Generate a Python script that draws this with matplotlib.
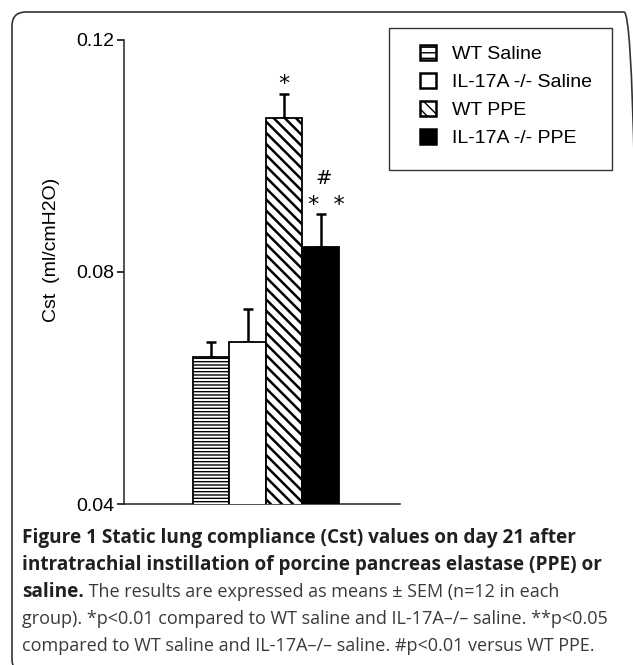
import matplotlib
matplotlib.use("Agg")
import matplotlib.pyplot as plt
from matplotlib.patches import Patch, Rectangle, FancyBboxPatch
from matplotlib.transforms import IdentityTransform

# ---- data ----
groups = ["WT Saline", "IL-17A -/- Saline", "WT PPE", "IL-17A -/- PPE"]
means = [0.0653, 0.0679, 0.1066, 0.0843]
sem = [0.0027, 0.0057, 0.0041, 0.0057]
yticks = [0.04, 0.08, 0.12]
ytick_labels = ["0.04", "0.08", "0.12"]
ylabel = "Cst\u2002(ml/cmH2O)"
caption_bold = ["Figure 1 Static lung compliance (Cst) values on day 21 after",
                "intratrachial instillation of porcine pancreas elastase (PPE) or",
                "saline."]
caption_normal = [" The results are expressed as means \u00b1 SEM (n=12 in each",
                  "group). *p<0.01 compared to WT saline and IL-17A\u2013/\u2013 saline. **p<0.05",
                  "compared to WT saline and IL-17A\u2013/\u2013 saline. #p<0.01 versus WT PPE."]

W, H = 633, 665
fig = plt.figure(figsize=(W / 100, H / 100), dpi=100)
def fx(px): return px / W
def fy(py): return 1 - py / H

CH = "Liberation Sans"
ax = fig.add_axes([fx(124), fy(504), (400 - 124) / W, (504 - 40) / H])
ax.set_ylim(0.04, 0.12)
left = -(211 - 124) / 36.5
ax.set_xlim(left, left + 276 / 36.5)

faces = ["white", "white", "white", "black"]
hatches = ["-----", None, "\\\\\\", None]
hlw = [1.0, 1.0, 1.8, 1.0]
x = list(range(len(groups)))
for i in x:
    with plt.rc_context({"hatch.linewidth": hlw[i]}):
        ax.bar(x[i], means[i], width=1.0, color=faces[i], edgecolor="black",
               linewidth=1.3, hatch=hatches[i], zorder=3)
ax.errorbar(x, means, yerr=[[0] * len(sem), sem], fmt="none", ecolor="black",
            elinewidth=1.8, capsize=3.5, capthick=1.8, zorder=2)

for s in ["top", "right"]:
    ax.spines[s].set_visible(False)
for s in ["left", "bottom"]:
    ax.spines[s].set_linewidth(1.1)
    ax.spines[s].set_color("#222222")
ax.set_xticks([])
ax.set_yticks(yticks)
ax.set_yticklabels(ytick_labels, family=CH, fontsize=14)
ax.tick_params(axis="y", direction="out", length=5, width=1.1, pad=2)

fig.text(fx(52), fy(250), ylabel, rotation=90, ha="center", va="center",
         family=CH, fontsize=14)

# significance marks
ax.text(2, 0.1125, "*", ha="center", va="center", fontsize=16, family="DejaVu Sans")
ax.text(3.1, 0.0962, "#", ha="center", va="center", fontsize=14, family="DejaVu Sans")
ax.text(3.15, 0.0915, "*  *", ha="center", va="center", fontsize=16, family="DejaVu Sans")

# legend
handles = []
for i in x:
    with plt.rc_context({"hatch.linewidth": 1.0}):
        handles.append(Patch(facecolor=faces[i], edgecolor="black", linewidth=1.8,
                             hatch=(hatches[i][:3] if hatches[i] else None)))
leg = ax.legend(handles, groups, loc="upper left",
                bbox_to_anchor=(fx(420), fy(45)), bbox_transform=fig.transFigure,
                frameon=False, prop={"family": CH, "size": 14},
                handlelength=0.8, handleheight=0.8, handletextpad=0.85,
                labelspacing=0.5, borderpad=0, borderaxespad=0)
fig.patches.append(Rectangle((fx(389), fy(170)), (612 - 389) / W, (170 - 28) / H,
                             transform=fig.transFigure, fill=False,
                             edgecolor="#333333", linewidth=1.0))

# caption
CF = "Open Sans"
ys = [538, 565, 592, 619, 646]
for i in range(3):
    fig.text(fx(22), fy(ys[i]), caption_bold[i], ha="left", va="center",
             family=CF, fontsize=13.7, fontweight="bold", color="#231f20")
r = fig.canvas.get_renderer()
t = fig.texts[-1]
bb = t.get_window_extent(renderer=r)
fig.text(bb.x1 / W, fy(ys[2]), caption_normal[0], ha="left", va="center",
         family=CF, fontsize=13.0, color="#3a3a3a")
for j in range(1, 3):
    fig.text(fx(22), fy(ys[2 + j]), caption_normal[j], ha="left", va="center",
             family=CF, fontsize=13.0, color="#3a3a3a")

frame = FancyBboxPatch((12, -8), 626, H - 12 + 8,
                       boxstyle="round,pad=0,rounding_size=14",
                       transform=IdentityTransform(), fill=False,
                       edgecolor="#333333", linewidth=1.2)
fig.patches.append(frame)

fig.savefig("out.png", dpi=100)
